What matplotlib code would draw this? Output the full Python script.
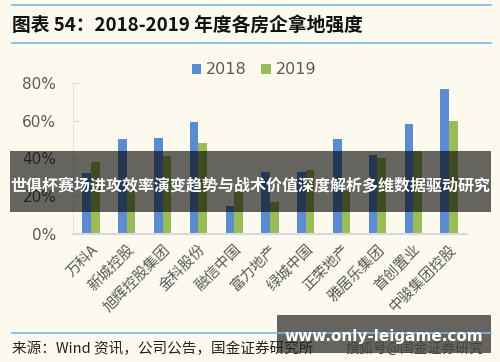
import matplotlib
matplotlib.use("Agg")
import matplotlib.pyplot as plt
import numpy as np
from matplotlib.patches import Rectangle
from matplotlib.lines import Line2D

plt.rcParams['font.family'] = ['Noto Sans CJK SC', 'DejaVu Sans']

# 数据
companies = ["万科A", "新城控股", "旭辉控股集团", "金科股份", "融信中国", "富力地产",
             "绿城中国", "正荣地产", "雅居乐集团", "首创置业", "中骏集团控股"]
ratio_2018 = [0.32, 0.50, 0.51, 0.59, 0.15, 0.33, 0.33, 0.50, 0.42, 0.58, 0.765]
ratio_2019 = [0.38, 0.23, 0.41, 0.48, 0.22, 0.17, 0.34, 0.23, 0.40, 0.44, 0.60]
series_names = ["2018", "2019"]
y_ticks = [0, 0.2, 0.4, 0.6, 0.8]

bg = "#fcfaef"
blue = "#5b8bd1"
green = "#9bbb59"
gray_txt = "#595959"

fig = plt.figure(figsize=(5, 3.62), dpi=100, facecolor=bg)
W, H = 500, 362

def fx(px):
    return px / W

def fy(py):
    return 1 - py / H

# 标题和分隔线
for y in (5, 43):
    fig.add_artist(Line2D([fx(12), fx(491)], [fy(y), fy(y)], color="#7ab8e8", lw=1.2))
fig.text(fx(12), fy(25), "图表 54：2018-2019 年度各房企拿地强度", fontsize=13.5,
         fontweight="bold", style="italic", va="center", ha="left", color="#111111")

# 柱状图
ax = fig.add_axes([fx(73), fy(234), fx(467) - fx(73), fy(82.7) - fy(234)])
ax.set_facecolor(bg)
x = np.arange(len(companies))
w = 0.24
ax.bar(x - w / 2, ratio_2018, width=w, color=blue, label=series_names[0])
ax.bar(x + w / 2, ratio_2019, width=w, color=green, label=series_names[1])
ax.set_xlim(-0.5, len(companies) - 0.5)
ax.set_ylim(0, 0.8)
ax.set_yticks(y_ticks)
ax.set_yticklabels(["%d%%" % (v * 100) for v in y_ticks], fontsize=11,
                   color=gray_txt, family="DejaVu Sans")
ax.set_xticks(x)
ax.set_xticklabels(companies, rotation=45, ha="right", rotation_mode="anchor",
                   fontsize=10.5, color=gray_txt)
ax.tick_params(axis="x", length=0, pad=6)
ax.tick_params(axis="y", direction="in", length=4, color="#d9d9d9", pad=12)
for s in ("top", "right"):
    ax.spines[s].set_visible(False)
ax.spines["left"].set_color("#e3e3e3")
ax.spines["bottom"].set_color("#d9d9d9")
ax.spines["bottom"].set_linewidth(1.5)

fig.legend(loc="center", bbox_to_anchor=(fx(254), fy(70)), ncol=2, frameon=False,
           handlelength=0.6, handleheight=0.6, columnspacing=0.9,
           handletextpad=0.3, labelcolor=gray_txt, prop={"family": "DejaVu Sans", "size": 11.5})

# 来源
fig.add_artist(Line2D([fx(12), fx(491)], [fy(333), fy(333)], color="#7ab8e8", lw=1.2))
fig.text(fx(12), fy(349), "来源：Wind 资讯，公司公告，国金证券研究所", fontsize=10.5,
         va="center", ha="left", color="#222222")
fig.text(fx(483), fy(349), "搜狐号@国金证券研究", fontsize=10,
         va="center", ha="right", color="#444444")

# 覆盖条幅
fig.add_artist(Rectangle((fx(10), fy(211.7)), fx(491) - fx(10), fy(150.7) - fy(211.7),
                         transform=fig.transFigure, facecolor="black", alpha=0.6, lw=0))
fig.text(fx(250), fy(186), "世俱杯赛场进攻效率演变趋势与战术价值深度解析多维数据驱动研究",
         fontsize=11.5, fontweight="bold", color="white", ha="center", va="center")
fig.add_artist(Rectangle((fx(277), fy(352.7)), fx(491) - fx(277), fy(315) - fy(352.7),
                         transform=fig.transFigure, facecolor="black", alpha=0.6, lw=0))
fig.text(fx(384), fy(336), "www.only-leigame.com", fontsize=11, fontweight="bold",
         color="white", ha="center", va="center", family="DejaVu Sans")

fig.savefig("out.png", dpi=100, facecolor=bg)
